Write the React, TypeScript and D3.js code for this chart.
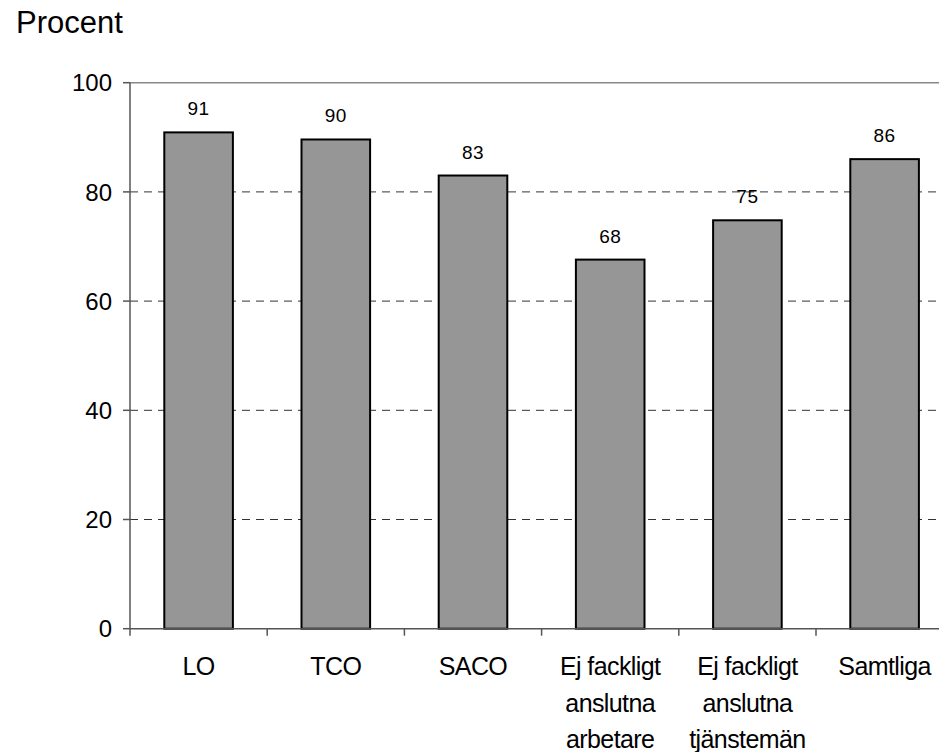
import { useEffect, useRef } from 'react';
import * as d3 from 'd3';

const categories = ['LO', 'TCO', 'SACO', 'Ej fackligt anslutna arbetare', 'Ej fackligt anslutna tjänstemän', 'Samtliga'];
const categoryLines = [['LO'], ['TCO'], ['SACO'], ['Ej fackligt', 'anslutna', 'arbetare'], ['Ej fackligt', 'anslutna', 'tjänstemän'], ['Samtliga']];
const values = [90.9, 89.6, 83.0, 67.6, 74.8, 86.0];
const valueLabels = ['91', '90', '83', '68', '75', '86'];
const yTicks = [0, 20, 40, 60, 80, 100];

const W = 939;
const H = 752;

export default function App() {
  const svgRef = useRef<SVGSVGElement>(null);

  useEffect(() => {
    if (!svgRef.current) return;
    const svg = d3.select(svgRef.current);
    svg.selectAll('*').remove();

    const left = 130;
    const step = 137.2;
    const top = 82.7;
    const bottom = 628.7;
    const font = '"Liberation Sans", Arial, sans-serif';

    const x = d3.scaleBand<string>()
      .domain(categories)
      .range([left, left + step * categories.length])
      .paddingInner(0.5)
      .paddingOuter(0.25);

    const y = d3.scaleLinear().domain([0, 100]).range([bottom, top]);

    // dashed grid lines
    svg.append('g')
      .selectAll('line')
      .data(yTicks.filter(t => t > 0 && t < 100))
      .enter()
      .append('line')
      .attr('x1', left)
      .attr('x2', W)
      .attr('y1', d => y(d))
      .attr('y2', d => y(d))
      .attr('stroke', '#333')
      .attr('stroke-width', 1)
      .attr('stroke-dasharray', '8,6');

    // top border
    svg.append('line')
      .attr('x1', left)
      .attr('x2', W)
      .attr('y1', y(100))
      .attr('y2', y(100))
      .attr('stroke', '#888')
      .attr('stroke-width', 1.5);

    // bars
    svg.append('g')
      .selectAll('rect')
      .data(values)
      .enter()
      .append('rect')
      .attr('x', (d, i) => x(categories[i])!)
      .attr('y', d => y(d))
      .attr('width', x.bandwidth())
      .attr('height', d => bottom - y(d))
      .attr('fill', '#969696')
      .attr('stroke', '#000')
      .attr('stroke-width', 2);

    // value labels
    svg.append('g')
      .selectAll('text')
      .data(values)
      .enter()
      .append('text')
      .attr('x', (d, i) => x(categories[i])! + x.bandwidth() / 2)
      .attr('y', d => y(d) - 17)
      .attr('text-anchor', 'middle')
      .style('font-family', font)
      .style('font-size', '19px')
      .style('letter-spacing', '0.5px')
      .attr('fill', '#000')
      .text((d, i) => valueLabels[i]);

    // y axis
    svg.append('line')
      .attr('x1', left).attr('x2', left)
      .attr('y1', top).attr('y2', bottom)
      .attr('stroke', '#555').attr('stroke-width', 1.5);

    const yAxis = svg.append('g');
    yTicks.forEach(t => {
      yAxis.append('line')
        .attr('x1', left - 7).attr('x2', left)
        .attr('y1', y(t)).attr('y2', y(t))
        .attr('stroke', '#555').attr('stroke-width', 1.5);
      yAxis.append('text')
        .attr('x', left - 18)
        .attr('y', y(t))
        .attr('dy', '0.36em')
        .attr('text-anchor', 'end')
        .style('font-family', font)
        .style('font-size', '24px')
        .attr('fill', '#000')
        .text(t);
    });

    // x axis
    svg.append('line')
      .attr('x1', left).attr('x2', W)
      .attr('y1', bottom).attr('y2', bottom)
      .attr('stroke', '#555').attr('stroke-width', 1.5);

    const xAxis = svg.append('g');
    categories.forEach((c, i) => {
      const cx = x(c)! + x.bandwidth() / 2;
      const bx = cx - step / 2;
      xAxis.append('line')
        .attr('x1', bx).attr('x2', bx)
        .attr('y1', bottom).attr('y2', bottom + 7)
        .attr('stroke', '#555').attr('stroke-width', 1.5);
      const txt = xAxis.append('text')
        .attr('text-anchor', 'middle')
        .style('font-family', font)
        .style('font-size', '25px')
        .style('letter-spacing', '-0.6px')
        .attr('fill', '#000');
      categoryLines[i].forEach((line, j) => {
        txt.append('tspan')
          .attr('x', cx)
          .attr('y', 675 + j * 36.5)
          .text(line);
      });
    });

    // y-axis title
    svg.append('text')
      .attr('x', 16)
      .attr('y', 33)
      .style('font-family', font)
      .style('font-size', '31px')
      .attr('fill', '#000')
      .text('Procent');
  }, []);

  return (
    <svg
      ref={svgRef}
      width={W}
      height={H}
      style={{ position: 'absolute', left: 0, top: 0, background: '#fff' }}
    />
  );
}
